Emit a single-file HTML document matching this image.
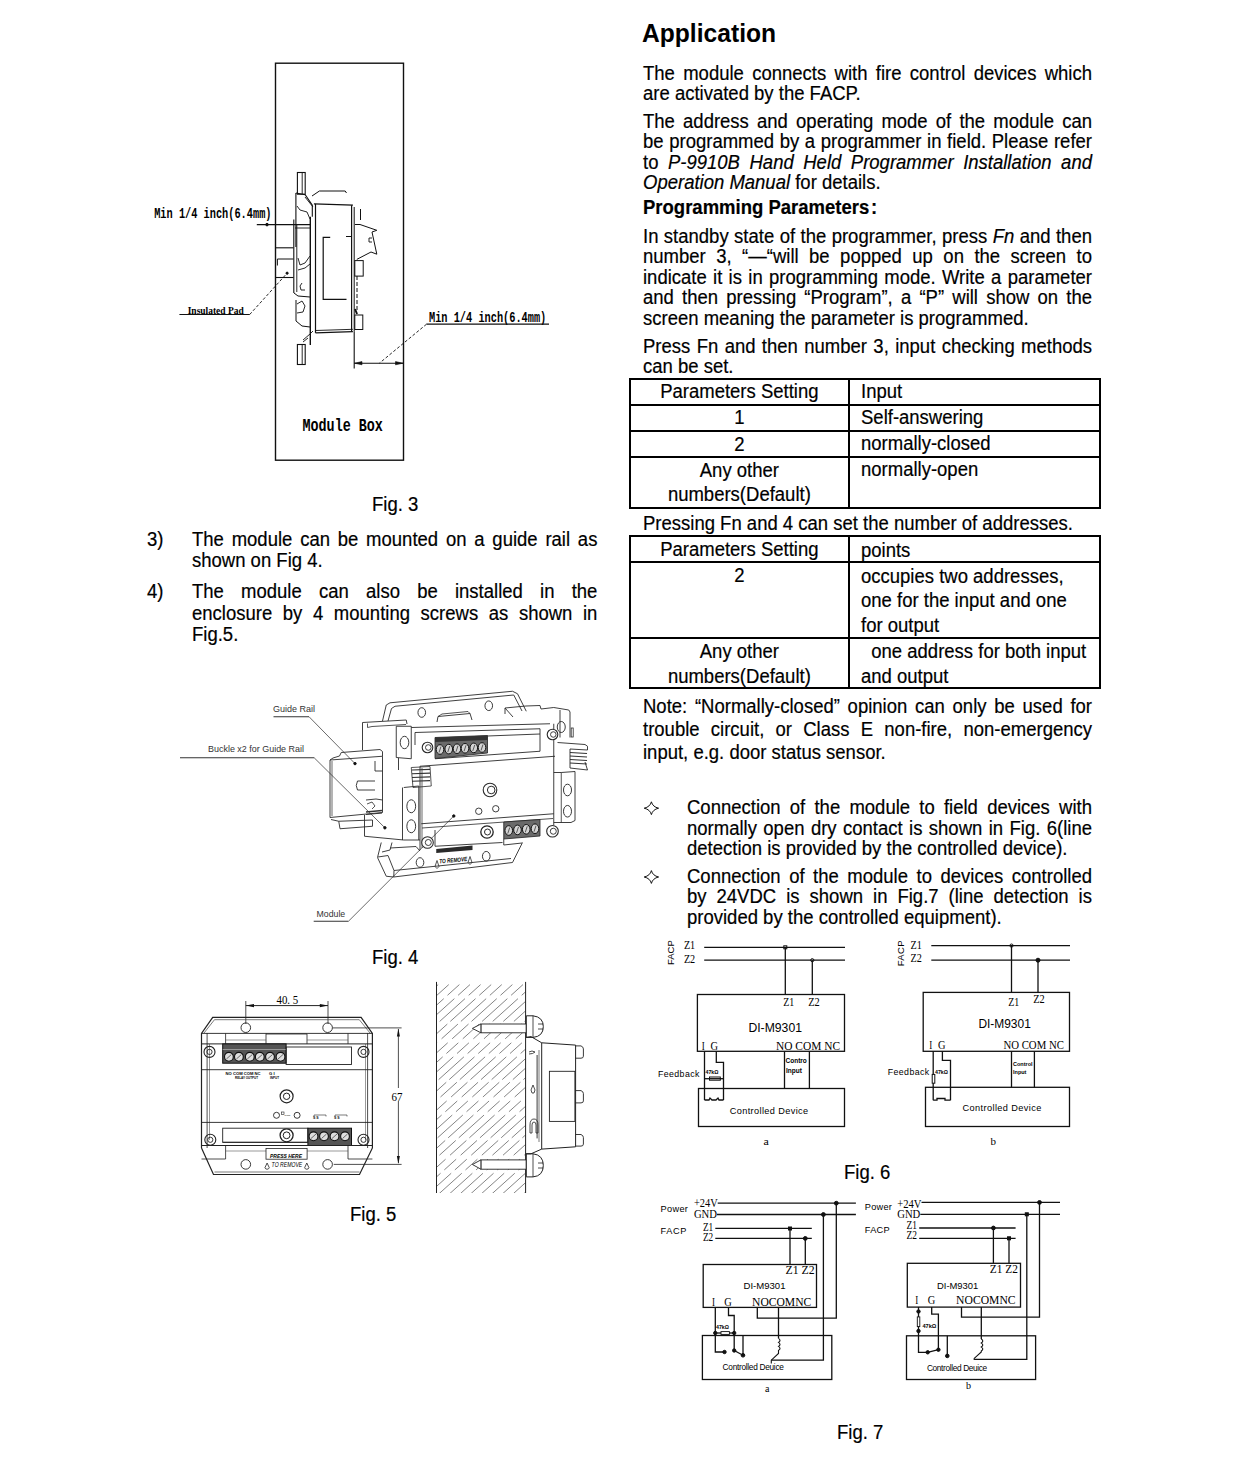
<!DOCTYPE html>
<html><head><meta charset="utf-8"><style>
html,body{margin:0;padding:0;background:#fff;}
body{width:1240px;height:1460px;position:relative;overflow:hidden;font-family:"Liberation Sans",sans-serif;color:#000;}
.l{position:absolute;white-space:nowrap;font-size:20px;line-height:20px;transform:scaleX(0.925);transform-origin:0 0;-webkit-text-stroke:0.2px #000;}
.j{text-align:justify;text-align-last:justify;white-space:normal;}
.r{position:absolute;background:#000;}
svg{position:absolute;left:0;top:0;overflow:visible;}
</style></head><body>
<div class="l" style="left:642px;top:23.1px;font-size:25.6px;font-weight:bold;transform:scaleX(0.962);-webkit-text-stroke:0;">Application</div>
<div class="l j" style="left:642.5px;top:62.7px;width:485.41px;">The module connects with fire control devices which</div>
<div class="l" style="left:642.5px;top:83.4px;">are activated by the FACP.</div>
<div class="l j" style="left:642.5px;top:110.6px;width:485.41px;">The address and operating mode of the module can</div>
<div class="l j" style="left:642.5px;top:131.1px;width:485.41px;">be programmed by a programmer in field. Please refer</div>
<div class="l j" style="left:642.5px;top:151.7px;width:485.41px;">to <i>P-9910B Hand Held Programmer Installation and</i></div>
<div class="l" style="left:642.5px;top:172.3px;"><i>Operation Manual</i> for details.</div>
<div class="l j" style="left:642.5px;top:225.7px;width:485.41px;">In standby state of the programmer, press <i>Fn</i> and then</div>
<div class="l j" style="left:642.5px;top:246.2px;width:485.41px;">number 3, “—“will be popped up on the screen to</div>
<div class="l j" style="left:642.5px;top:266.7px;width:485.41px;">indicate it is in programming mode. Write a parameter</div>
<div class="l j" style="left:642.5px;top:287.2px;width:485.41px;">and then pressing “Program”, a “P” will show on the</div>
<div class="l" style="left:642.5px;top:307.9px;">screen meaning the parameter is programmed.</div>
<div class="l j" style="left:642.5px;top:335.5px;width:485.41px;">Press Fn and then number 3, input checking methods</div>
<div class="l" style="left:642.5px;top:355.5px;">can be set.</div>
<div class="l" style="left:642.5px;top:513.2px;">Pressing Fn and 4 can set the number of addresses.</div>
<div class="l j" style="left:642.5px;top:696.1px;width:485.41px;">Note: “Normally-closed” opinion can only be used for</div>
<div class="l j" style="left:642.5px;top:719.2px;width:485.41px;">trouble circuit, or Class E non-fire, non-emergency</div>
<div class="l" style="left:642.5px;top:742.3px;">input, e.g. door status sensor.</div>
<div class="l" style="left:642.5px;top:196.7px;font-weight:bold;">Programming Parameters<span style="margin-left:2px">:</span></div>
<div class="l j" style="left:686.5px;top:797.1px;width:437.84px;">Connection of the module to field devices with</div>
<div class="l j" style="left:686.5px;top:817.7px;width:437.84px;">normally open dry contact is shown in Fig. 6(line</div>
<div class="l" style="left:686.5px;top:838.2px;">detection is provided by the controlled device).</div>
<div class="l j" style="left:686.5px;top:865.6px;width:437.84px;">Connection of the module to devices controlled</div>
<div class="l j" style="left:686.5px;top:886.2px;width:437.84px;">by 24VDC is shown in Fig.7 (line detection is</div>
<div class="l" style="left:686.5px;top:906.7px;">provided by the controlled equipment).</div>
<div class="r" style="left:629px;top:378.2px;width:471.70000000000005px;height:2px"></div>
<div class="r" style="left:629px;top:404.3px;width:471.70000000000005px;height:2px"></div>
<div class="r" style="left:629px;top:429.7px;width:471.70000000000005px;height:2px"></div>
<div class="r" style="left:629px;top:456.0px;width:471.70000000000005px;height:2px"></div>
<div class="r" style="left:629px;top:507.0px;width:471.70000000000005px;height:2px"></div>
<div class="r" style="left:629.0px;top:378.2px;width:2px;height:130.8px"></div>
<div class="r" style="left:847.7px;top:378.2px;width:2px;height:130.8px"></div>
<div class="r" style="left:1098.7px;top:378.2px;width:2px;height:130.8px"></div>
<div class="r" style="left:629px;top:535.3px;width:471.70000000000005px;height:2px"></div>
<div class="r" style="left:629px;top:561.0px;width:471.70000000000005px;height:2px"></div>
<div class="r" style="left:629px;top:636.6px;width:471.70000000000005px;height:2px"></div>
<div class="r" style="left:629px;top:687.4px;width:471.70000000000005px;height:2px"></div>
<div class="r" style="left:629.0px;top:535.3px;width:2px;height:154.10000000000002px"></div>
<div class="r" style="left:847.7px;top:535.3px;width:2px;height:154.10000000000002px"></div>
<div class="r" style="left:1098.7px;top:535.3px;width:2px;height:154.10000000000002px"></div>
<div class="l" style="left:630px;top:379.2px;width:236.43px;line-height:25px;text-align:center;">Parameters Setting</div>
<div class="l" style="left:630px;top:405.4px;width:236.43px;line-height:25px;text-align:center;">1</div>
<div class="l" style="left:630px;top:431.6px;width:236.43px;line-height:25px;text-align:center;">2</div>
<div class="l" style="left:630px;top:457.5px;width:236.43px;line-height:25px;text-align:center;">Any other</div>
<div class="l" style="left:630px;top:482.2px;width:236.43px;line-height:25px;text-align:center;">numbers(Default)</div>
<div class="l" style="left:630px;top:537.2px;width:236.43px;line-height:25px;text-align:center;">Parameters Setting</div>
<div class="l" style="left:630px;top:563.3px;width:236.43px;line-height:25px;text-align:center;">2</div>
<div class="l" style="left:630px;top:639.2px;width:236.43px;line-height:25px;text-align:center;">Any other</div>
<div class="l" style="left:630px;top:664.4px;width:236.43px;line-height:25px;text-align:center;">numbers(Default)</div>
<div class="l" style="left:860.5px;top:379.3px;line-height:25px;">Input</div>
<div class="l" style="left:860.5px;top:405.2px;line-height:25px;">Self-answering</div>
<div class="l" style="left:860.5px;top:431.2px;line-height:25px;">normally-closed</div>
<div class="l" style="left:860.5px;top:457.2px;line-height:25px;">normally-open</div>
<div class="l" style="left:860.5px;top:537.5px;line-height:25px;">points</div>
<div class="l" style="left:860.5px;top:563.5px;line-height:25px;">occupies two addresses,</div>
<div class="l" style="left:860.5px;top:588.3px;line-height:25px;">one for the input and one</div>
<div class="l" style="left:860.5px;top:613.2px;line-height:25px;">for output</div>
<div class="l" style="left:860.5px;top:639.2px;line-height:25px;">&nbsp; one address for both input</div>
<div class="l" style="left:860.5px;top:664.0px;line-height:25px;">and output</div>
<div class="l" style="left:147.3px;top:528.8px;">3)</div>
<div class="l j" style="left:192.3px;top:528.8px;width:438.27px;">The module can be mounted on a guide rail as</div>
<div class="l" style="left:192.3px;top:550.4px;">shown on Fig 4.</div>
<div class="l" style="left:147.3px;top:580.7px;">4)</div>
<div class="l j" style="left:192.3px;top:580.7px;width:438.27px;">The module can also be installed in the</div>
<div class="l j" style="left:192.3px;top:602.5px;width:438.27px;">enclosure by 4 mounting screws as shown in</div>
<div class="l" style="left:192.3px;top:624.3px;">Fig.5.</div>
<div class="l" style="left:371.8px;top:493.8px;">Fig. 3</div>
<div class="l" style="left:371.7px;top:946.8px;">Fig. 4</div>
<div class="l" style="left:349.8px;top:1204.0px;">Fig. 5</div>
<div class="l" style="left:844.0px;top:1161.8px;">Fig. 6</div>
<div class="l" style="left:836.8px;top:1421.8px;">Fig. 7</div>

<svg width="1240" height="1460" viewBox="0 0 1240 1460"><rect x="275.5" y="63.2" width="128" height="397" fill="none" stroke="#111" stroke-width="1.4"/><text x="154.2" y="217.7" font-family="Liberation Mono" font-size="10.3" font-weight="bold" transform="translate(154.2 217.7) scale(1 1.45) translate(-154.2 -217.7)">Min 1/4 inch(6.4mm)</text><line x1="256.8" y1="224.6" x2="311" y2="224.6" stroke="#111" stroke-width="1.1"/><circle cx="267" cy="224.6" r="1.3" fill="#111" stroke="#111" stroke-width="1.0"/><text x="429" y="321.6" font-family="Liberation Mono" font-size="10.3" font-weight="bold" transform="translate(429 321.6) scale(1 1.45) translate(-429 -321.6)">Min 1/4 inch(6.4mm)</text><line x1="426.5" y1="324.2" x2="549" y2="324.2" stroke="#111" stroke-width="1.2"/><line x1="426.5" y1="324.2" x2="379.4" y2="363.2" stroke="#111" stroke-width="0.9" stroke-dasharray="3,2"/><text x="187.7" y="314.5" font-family="Liberation Serif" font-size="8" font-weight="bold" textLength="56" lengthAdjust="spacingAndGlyphs" transform="translate(187.7 314.5) scale(1 1.2) translate(-187.7 -314.5)">Insulated Pad</text><line x1="179.4" y1="314.5" x2="249.7" y2="314.5" stroke="#111" stroke-width="1.1"/><line x1="249.7" y1="314.5" x2="287.1" y2="273.2" stroke="#111" stroke-width="0.9" stroke-dasharray="3,2"/><circle cx="287.1" cy="273.2" r="1.1" fill="#111" stroke="#111" stroke-width="1.0"/><text x="302.5" y="431" font-family="Liberation Mono" font-size="13.4" font-weight="bold" transform="translate(302.5 431) scale(1 1.35) translate(-302.5 -431)">Module Box</text><line x1="354.2" y1="331.6" x2="354.2" y2="368.4" stroke="#111" stroke-width="1.1"/><line x1="354.2" y1="363.2" x2="403.2" y2="363.2" stroke="#111" stroke-width="1.1"/><polygon points="354.5,363.2 362,361.6 362,364.8" fill="#111" stroke="#111" stroke-width="0.6"/><polygon points="403,363.2 395.5,361.6 395.5,364.8" fill="#111" stroke="#111" stroke-width="0.6"/><rect x="297.4" y="172.5" width="7.8" height="21.7" fill="none" stroke="#111" stroke-width="1.1"/><line x1="302.2" y1="173" x2="302.2" y2="194" stroke="#111" stroke-width="0.9"/><rect x="297.4" y="344.5" width="7.8" height="20" fill="none" stroke="#111" stroke-width="1.1"/><line x1="302.2" y1="345" x2="302.2" y2="364" stroke="#111" stroke-width="0.9"/><line x1="295.9" y1="193" x2="295.9" y2="247" stroke="#111" stroke-width="1.1"/><line x1="293.8" y1="219.4" x2="293.8" y2="293" stroke="#111" stroke-width="1.1"/><line x1="296.8" y1="225" x2="296.8" y2="292" stroke="#111" stroke-width="0.9"/><polyline points="295.9,193 305.2,194.8 312.3,205.2 312.3,216.8" fill="none" stroke="#111" stroke-width="1.1"/><polyline points="305,197 313,207" fill="none" stroke="#111" stroke-width="0.9"/><line x1="310.3" y1="216.8" x2="310.3" y2="345" stroke="#111" stroke-width="1.4"/><line x1="315.5" y1="203.9" x2="315.5" y2="332.9" stroke="#111" stroke-width="1.2"/><polyline points="313.9,203.9 352.9,205.2" fill="none" stroke="#111" stroke-width="1.2"/><polyline points="312,196 319.4,191 345.2,191 346.5,193" fill="none" stroke="#111" stroke-width="1.0"/><line x1="351.6" y1="205.2" x2="351.6" y2="331.6" stroke="#111" stroke-width="1.2"/><line x1="354.2" y1="207" x2="354.2" y2="331.6" stroke="#111" stroke-width="1.0"/><polyline points="330.2,237.4 323.2,237.4 323.2,299.4 346.5,299.4" fill="none" stroke="#111" stroke-width="1.2"/><polyline points="346,236.5 351.6,236.5" fill="none" stroke="#111" stroke-width="1.0"/><polyline points="315.5,332.9 352.9,331.6" fill="none" stroke="#111" stroke-width="1.2"/><polyline points="315.5,330.5 352.9,329.3" fill="none" stroke="#111" stroke-width="0.9"/><polyline points="355,224.5 360,224.5 376.8,230.3 372,232 376.8,254.2 371,252 356.8,259.4" fill="none" stroke="#111" stroke-width="1.0"/><line x1="369" y1="238" x2="369" y2="242" stroke="#111" stroke-width="0.9"/><line x1="369" y1="238" x2="372" y2="238" stroke="#111" stroke-width="0.9"/><line x1="369" y1="242" x2="372" y2="242" stroke="#111" stroke-width="0.9"/><rect x="354.8" y="260.6" width="8.4" height="15.5" fill="none" stroke="#111" stroke-width="1.0"/><line x1="357" y1="276" x2="357" y2="310" stroke="#111" stroke-width="1.0" stroke-dasharray="4,2"/><line x1="355" y1="309" x2="357" y2="314" stroke="#111" stroke-width="2"/><rect x="354.8" y="315" width="8" height="14.5" fill="none" stroke="#111" stroke-width="1.0"/><line x1="360.5" y1="209" x2="360.5" y2="220" stroke="#111" stroke-width="1.0"/><polyline points="275.5,247.8 293.5,247.8" fill="none" stroke="#111" stroke-width="1.1"/><polyline points="275.5,277.5 293.5,277.5" fill="none" stroke="#111" stroke-width="1.1"/><polyline points="277.4,265.5 277.4,259 293.5,259" fill="none" stroke="#111" stroke-width="1.0"/><polyline points="294,293 298,296 310,297" fill="none" stroke="#111" stroke-width="1.0"/><polyline points="296,300 296,321 302,326 310,327" fill="none" stroke="#111" stroke-width="1.0"/><polyline points="297,304 302,301 305,306 303,312 297,313" fill="none" stroke="#111" stroke-width="0.9"/><polyline points="297,206 300,210 307,212 310,219" fill="none" stroke="#111" stroke-width="0.9"/><polyline points="295,228 310,228" fill="none" stroke="#111" stroke-width="0.9"/><polyline points="298,258 300,265 305,263 310,256" fill="none" stroke="#111" stroke-width="0.9"/><polyline points="298,270 305,268 310,264" fill="none" stroke="#111" stroke-width="0.9"/><polyline points="302,283 300,286 301,290 305,290" fill="none" stroke="#111" stroke-width="0.9"/><polyline points="303,340 310,334 313,331" fill="none" stroke="#111" stroke-width="0.9"/><polyline points="303,342 308,338" fill="none" stroke="#111" stroke-width="0.9"/><text x="272.9" y="711.5" font-family="Liberation Sans" font-size="9.6" fill="#333" textLength="42" lengthAdjust="spacingAndGlyphs">Guide Rail</text><line x1="273.5" y1="716.7" x2="309" y2="716.7" stroke="#333" stroke-width="1.1"/><line x1="309" y1="716.7" x2="355" y2="763.6" stroke="#444" stroke-width="0.8"/><circle cx="355" cy="763.6" r="1.2" fill="#111" stroke="#111" stroke-width="1.0"/><text x="208" y="751.5" font-family="Liberation Sans" font-size="9.6" fill="#333" textLength="96" lengthAdjust="spacingAndGlyphs">Buckle x2 for Guide Rail</text><line x1="180" y1="757.8" x2="314.2" y2="757.8" stroke="#333" stroke-width="1.1"/><line x1="314.2" y1="757.8" x2="384.9" y2="827.8" stroke="#444" stroke-width="0.8"/><circle cx="384.9" cy="827.8" r="1.2" fill="#111" stroke="#111" stroke-width="1.0"/><text x="316.5" y="917.1" font-family="Liberation Sans" font-size="9.6" fill="#333" textLength="28.7" lengthAdjust="spacingAndGlyphs">Module</text><line x1="313.7" y1="921.3" x2="348.4" y2="921.3" stroke="#333" stroke-width="1.1"/><line x1="348.4" y1="921.3" x2="453.8" y2="816" stroke="#444" stroke-width="0.8"/><circle cx="453.8" cy="816" r="1.2" fill="#111" stroke="#111" stroke-width="1.0"/><polyline points="382.5,721 386.25,705 390,702.8 512.5,691.25 517.5,693.75 526.25,711.25" fill="none" stroke="#2a2a2a" stroke-width="0.9"/><polyline points="388,721 391.5,708.5 395,706.25 513.75,695 522,711" fill="none" stroke="#2a2a2a" stroke-width="0.9"/><ellipse cx="421.75" cy="712.5" rx="3.8" ry="4.8" fill="none" stroke="#222" stroke-width="0.9"/><ellipse cx="488.75" cy="705.75" rx="3.8" ry="4.8" fill="none" stroke="#222" stroke-width="0.9"/><polyline points="437,722 438,716.5 470,713.5 472,720" fill="none" stroke="#2a2a2a" stroke-width="0.9"/><polyline points="438,716.5 442,714 468,711.5 470,713.5" fill="none" stroke="#2a2a2a" stroke-width="0.8"/><polyline points="505,714 505,708 526,706 540,705.5 541,709" fill="none" stroke="#2a2a2a" stroke-width="0.9"/><polyline points="505,708 513,717" fill="none" stroke="#2a2a2a" stroke-width="0.9"/><polyline points="362.5,750 362.5,722.5 406.25,720 407,724" fill="none" stroke="#2a2a2a" stroke-width="0.9"/><polyline points="367.5,723.5 367.5,727.5 372,726.5 406,724.5" fill="none" stroke="#2a2a2a" stroke-width="0.8"/><polyline points="396.25,726.25 411.25,726.25 411.25,758.75 396.25,757.5 396.25,726.25" fill="none" stroke="#2a2a2a" stroke-width="0.9"/><ellipse cx="404.5" cy="742.5" rx="4.3" ry="6.2" fill="none" stroke="#222" stroke-width="0.9"/><line x1="398.5" y1="758" x2="398.5" y2="770" stroke="#2a2a2a" stroke-width="0.9"/><polyline points="402.5,787.5 402.5,840" fill="none" stroke="#2a2a2a" stroke-width="0.9"/><polyline points="403.75,787.5 418.75,786 418.75,840" fill="none" stroke="#2a2a2a" stroke-width="0.9"/><polyline points="364.5,815 364.5,836.25 403.75,840 420,840" fill="none" stroke="#2a2a2a" stroke-width="0.9"/><ellipse cx="411.25" cy="806.25" rx="4.4" ry="6.5" fill="none" stroke="#222" stroke-width="0.9"/><ellipse cx="411.25" cy="826.25" rx="4.4" ry="6.5" fill="none" stroke="#222" stroke-width="0.9"/><polyline points="341.25,752.5 380,749.5 382.5,751.5 382.5,756.25" fill="none" stroke="#2a2a2a" stroke-width="0.9"/><polyline points="341.25,752.5 339.5,756 333,758 330,760 330,817.5" fill="none" stroke="#2a2a2a" stroke-width="0.9"/><polyline points="330,760 382.5,756.25" fill="none" stroke="#2a2a2a" stroke-width="0.9"/><line x1="332" y1="761" x2="332" y2="816" stroke="#2a2a2a" stroke-width="0.7"/><polyline points="375,761 375,771 382.5,771" fill="none" stroke="#2a2a2a" stroke-width="0.9"/><polyline points="330,817.5 382.5,812.5" fill="none" stroke="#2a2a2a" stroke-width="0.9"/><polyline points="331,819.5 338.75,821.25 372.5,820 372.5,826.25 340,828.75 338.75,821.25" fill="none" stroke="#2a2a2a" stroke-width="0.9"/><polyline points="357.5,781 375,781" fill="none" stroke="#2a2a2a" stroke-width="0.9"/><polyline points="357.5,790 375,790" fill="none" stroke="#2a2a2a" stroke-width="0.9"/><path d="M357.5,781 q-2.5,4.5 0,9" fill="none" stroke="#2a2a2a" stroke-width="0.9" /><polyline points="382.5,756.25 382.5,800" fill="none" stroke="#2a2a2a" stroke-width="0.9"/><polyline points="366,800 376,799 382.5,800 382.5,812.5" fill="none" stroke="#2a2a2a" stroke-width="0.9"/><polyline points="367,804 372,802 375,806 372,809" fill="none" stroke="#2a2a2a" stroke-width="0.8"/><polyline points="366,812 382,810.5" fill="none" stroke="#333" stroke-width="1.6"/><polyline points="366,814.5 382,813" fill="none" stroke="#333" stroke-width="1.0"/><polyline points="411.25,727.5 550,723.75" fill="none" stroke="#2a2a2a" stroke-width="0.9"/><polyline points="415,732.5 540,728.75 540,751.25" fill="none" stroke="#2a2a2a" stroke-width="0.9"/><polyline points="415,732.5 415,745" fill="none" stroke="#2a2a2a" stroke-width="0.9"/><polyline points="435,758.75 540,751.25" fill="none" stroke="#2a2a2a" stroke-width="0.9"/><polyline points="420,766.25 555,756.25" fill="none" stroke="#2a2a2a" stroke-width="0.9"/><polyline points="420,766.25 420,850" fill="none" stroke="#2a2a2a" stroke-width="0.9"/><line x1="422" y1="768" x2="422" y2="848" stroke="#2a2a2a" stroke-width="0.7"/><line x1="553.75" y1="723.75" x2="553.75" y2="825" stroke="#2a2a2a" stroke-width="0.9"/><polyline points="421.25,823.75 553.75,813.75" fill="none" stroke="#2a2a2a" stroke-width="0.9"/><polyline points="422,828 553,818.5" fill="none" stroke="#2a2a2a" stroke-width="0.8"/><polyline points="435,830 435,846.25 502.5,842.5" fill="none" stroke="#2a2a2a" stroke-width="0.9"/><polygon points="435,737.5 487.5,735.5 487.5,753 435,758.5" fill="#6a6a6a" stroke="#222" stroke-width="0.8"/><polygon points="435,737.5 487.5,735.5 487.5,740 435,742" fill="#333"/><ellipse cx="440" cy="749.5" rx="3.8" ry="4.8" fill="#d4d4d4" stroke="#111" stroke-width="1.0"/><line x1="439" y1="752.5" x2="441" y2="746.5" stroke="#222" stroke-width="0.7"/><ellipse cx="448.75" cy="749.1" rx="3.8" ry="4.8" fill="#d4d4d4" stroke="#111" stroke-width="1.0"/><line x1="447.75" y1="752.1" x2="449.75" y2="746.1" stroke="#222" stroke-width="0.7"/><ellipse cx="457" cy="748.7" rx="3.8" ry="4.8" fill="#d4d4d4" stroke="#111" stroke-width="1.0"/><line x1="456" y1="751.7" x2="458" y2="745.7" stroke="#222" stroke-width="0.7"/><ellipse cx="465" cy="748.3" rx="3.8" ry="4.8" fill="#d4d4d4" stroke="#111" stroke-width="1.0"/><line x1="464" y1="751.3" x2="466" y2="745.3" stroke="#222" stroke-width="0.7"/><ellipse cx="473.75" cy="747.9" rx="3.8" ry="4.8" fill="#d4d4d4" stroke="#111" stroke-width="1.0"/><line x1="472.75" y1="750.9" x2="474.75" y2="744.9" stroke="#222" stroke-width="0.7"/><ellipse cx="482" cy="747.5" rx="3.8" ry="4.8" fill="#d4d4d4" stroke="#111" stroke-width="1.0"/><line x1="481" y1="750.5" x2="483" y2="744.5" stroke="#222" stroke-width="0.7"/><polyline points="487.5,736 540,734" fill="none" stroke="#2a2a2a" stroke-width="0.9"/><circle cx="427.5" cy="747.5" r="5.3" fill="#fff" stroke="#2a2a2a" stroke-width="1.1"/><circle cx="428.3" cy="747.5" r="2.8" fill="none" stroke="#2a2a2a" stroke-width="0.9"/><line x1="412" y1="770" x2="430" y2="769.4" stroke="#333" stroke-width="1.2"/><line x1="412" y1="773.75" x2="430" y2="773.15" stroke="#333" stroke-width="1.2"/><line x1="412" y1="777.5" x2="430" y2="776.9" stroke="#333" stroke-width="1.2"/><line x1="412" y1="781.25" x2="430" y2="780.65" stroke="#333" stroke-width="1.2"/><polyline points="411.25,767.5 430,766.5 431.25,786 413,787.5 411.25,767.5" fill="none" stroke="#2a2a2a" stroke-width="0.8"/><circle cx="490" cy="790" r="6.8" fill="#fff" stroke="#2a2a2a" stroke-width="1.1"/><circle cx="491.2" cy="790" r="3.8" fill="none" stroke="#2a2a2a" stroke-width="1"/><circle cx="478.75" cy="811.25" r="3.2" fill="none" stroke="#2a2a2a" stroke-width="0.9"/><circle cx="495.75" cy="808.75" r="3.2" fill="none" stroke="#2a2a2a" stroke-width="0.9"/><circle cx="487" cy="832" r="6.2" fill="#fff" stroke="#222" stroke-width="1.3"/><circle cx="487.5" cy="832" r="3" fill="none" stroke="#2a2a2a" stroke-width="1"/><polygon points="503.75,822 540,819.5 540,836 503.75,839" fill="#6a6a6a" stroke="#222" stroke-width="0.8"/><ellipse cx="508.75" cy="830.5" rx="3.8" ry="4.8" fill="#d4d4d4" stroke="#111" stroke-width="1.0"/><line x1="507.75" y1="833.5" x2="509.75" y2="827.5" stroke="#222" stroke-width="0.7"/><ellipse cx="517.5" cy="829.9" rx="3.8" ry="4.8" fill="#d4d4d4" stroke="#111" stroke-width="1.0"/><line x1="516.5" y1="832.9" x2="518.5" y2="826.9" stroke="#222" stroke-width="0.7"/><ellipse cx="526.25" cy="829.3" rx="3.8" ry="4.8" fill="#d4d4d4" stroke="#111" stroke-width="1.0"/><line x1="525.25" y1="832.3" x2="527.25" y2="826.3" stroke="#222" stroke-width="0.7"/><ellipse cx="535" cy="828.7" rx="3.8" ry="4.8" fill="#d4d4d4" stroke="#111" stroke-width="1.0"/><line x1="534" y1="831.7" x2="536" y2="825.7" stroke="#222" stroke-width="0.7"/><circle cx="427.5" cy="842.5" r="5.8" fill="#fff" stroke="#2a2a2a" stroke-width="1.1"/><circle cx="428.3" cy="842.5" r="3.016" fill="none" stroke="#2a2a2a" stroke-width="0.9"/><circle cx="552.5" cy="831.25" r="5.8" fill="#fff" stroke="#2a2a2a" stroke-width="1.1"/><circle cx="553.3" cy="831.25" r="3.016" fill="none" stroke="#2a2a2a" stroke-width="0.9"/><circle cx="552.5" cy="734.5" r="5.3" fill="#fff" stroke="#2a2a2a" stroke-width="1.1"/><circle cx="553.3" cy="734.5" r="2.756" fill="none" stroke="#2a2a2a" stroke-width="0.9"/><polyline points="541,709 553.75,707.5 568.75,710 570,712 570,737.5" fill="none" stroke="#2a2a2a" stroke-width="0.9"/><polyline points="560,710 560,737.5" fill="none" stroke="#2a2a2a" stroke-width="0.9"/><ellipse cx="561.25" cy="727" rx="4" ry="5.5" fill="none" stroke="#222" stroke-width="0.9"/><rect x="571.2" y="728" width="2" height="9" fill="none" stroke="#2a2a2a" stroke-width="0.8"/><polyline points="557.5,742.5 585,744.5 587.5,746.25 587.5,750 570,749" fill="none" stroke="#2a2a2a" stroke-width="0.9"/><line x1="570" y1="752.5" x2="587" y2="753.5" stroke="#333" stroke-width="1.2"/><line x1="570" y1="756" x2="587" y2="757" stroke="#333" stroke-width="1.2"/><line x1="570" y1="759.5" x2="587" y2="760.5" stroke="#333" stroke-width="1.2"/><line x1="570" y1="763" x2="587" y2="764" stroke="#333" stroke-width="1.2"/><polyline points="570,749 570,768 587.5,770 585,762" fill="none" stroke="#2a2a2a" stroke-width="0.9"/><polyline points="553.75,772.5 561.25,772.5 575,771.5 575,820.5 571,822.5 553.75,822.5" fill="none" stroke="#2a2a2a" stroke-width="0.9"/><line x1="561.25" y1="772.5" x2="561.25" y2="822.5" stroke="#2a2a2a" stroke-width="0.8"/><ellipse cx="567.5" cy="790" rx="4" ry="5.8" fill="none" stroke="#222" stroke-width="0.9"/><ellipse cx="567.5" cy="811.25" rx="4" ry="5.8" fill="none" stroke="#222" stroke-width="0.9"/><polyline points="381.25,842.5 377.5,857.5 386.25,876.25 393.75,877 512.5,862.5 522.5,842.5" fill="none" stroke="#2a2a2a" stroke-width="0.9"/><polyline points="392,842.5 390,850 382,852" fill="none" stroke="#2a2a2a" stroke-width="0.9"/><polyline points="378,857 388,855.5 394,870.5 393.75,877" fill="none" stroke="#2a2a2a" stroke-width="0.9"/><polyline points="394,870.5 511,858.5" fill="none" stroke="#2a2a2a" stroke-width="0.9"/><polyline points="390,848 416,846.5 420,851" fill="none" stroke="#2a2a2a" stroke-width="0.9"/><ellipse cx="420" cy="862.5" rx="3.8" ry="4.8" fill="none" stroke="#222" stroke-width="0.9"/><ellipse cx="486.25" cy="856.25" rx="3.8" ry="4.8" fill="none" stroke="#222" stroke-width="0.9"/><polygon points="436.25,849 472.5,845.5 472.5,850 436.25,853" fill="#2a2a2a"/><text x="439.5" y="863.5" font-family="Liberation Sans" font-size="6.2" font-weight="bold" font-style="italic" textLength="28" lengthAdjust="spacingAndGlyphs" transform="rotate(-5 439.5 863.5)">TO REMOVE</text><polyline points="435,866.5 437,860.5 439,866.5 437,868.5 435,866.5" fill="none" stroke="#2a2a2a" stroke-width="0.8"/><polyline points="468,862.5 470,856.5 472,862.5 470,864.5 468,862.5" fill="none" stroke="#2a2a2a" stroke-width="0.8"/><polyline points="503.75,839 503.75,845 522,843" fill="none" stroke="#2a2a2a" stroke-width="0.9"/><text x="276.5" y="1004.4" font-family="Liberation Serif" font-size="12" textLength="21.7" lengthAdjust="spacingAndGlyphs">40. 5</text><line x1="245.8" y1="1005.6" x2="328" y2="1005.6" stroke="#222" stroke-width="1.0"/><polygon points="245.8,1005.6 254,1004 254,1007.2" fill="#111"/><polygon points="328,1005.6 319.8,1004 319.8,1007.2" fill="#111"/><line x1="245.8" y1="1001" x2="245.8" y2="1024" stroke="#222" stroke-width="0.8"/><line x1="328" y1="1001" x2="328" y2="1024" stroke="#222" stroke-width="0.8"/><polyline points="201.5,1147.9 201.5,1033.4 212.7,1017.3 361.1,1017.3 372.4,1033.4 372.4,1147.9 359.5,1174.5 213.5,1174.5 201.5,1147.9" fill="none" stroke="#222" stroke-width="1.2"/><polyline points="204,1033 214.5,1019.7 359.3,1019.7 370,1033" fill="none" stroke="#444" stroke-width="0.7"/><line x1="207.1" y1="1033" x2="207.1" y2="1148" stroke="#222" stroke-width="0.8"/><line x1="367.6" y1="1033" x2="367.6" y2="1148" stroke="#222" stroke-width="0.8"/><line x1="209.5" y1="1044" x2="209.5" y2="1140" stroke="#555" stroke-width="0.6"/><line x1="365.5" y1="1044" x2="365.5" y2="1140" stroke="#555" stroke-width="0.6"/><circle cx="245.8" cy="1027.7" r="4.8" fill="none" stroke="#222" stroke-width="0.9"/><circle cx="327.6" cy="1027.7" r="4.8" fill="none" stroke="#222" stroke-width="0.9"/><circle cx="245.8" cy="1164.4" r="4.8" fill="none" stroke="#222" stroke-width="0.9"/><circle cx="327.6" cy="1164.4" r="4.8" fill="none" stroke="#222" stroke-width="0.9"/><line x1="201.5" y1="1033.4" x2="372.4" y2="1033.4" stroke="#222" stroke-width="0.9"/><polyline points="225.6,1033.4 225.6,1043.9" fill="none" stroke="#222" stroke-width="0.8"/><polyline points="266,1033.4 266,1043.9" fill="none" stroke="#222" stroke-width="0.8"/><polyline points="266,1034 307,1034 307,1043.9" fill="none" stroke="#222" stroke-width="0.8"/><polyline points="348,1033.4 348,1043.9" fill="none" stroke="#222" stroke-width="0.8"/><line x1="225.6" y1="1040" x2="266" y2="1040" stroke="#555" stroke-width="0.6"/><line x1="307" y1="1040" x2="348" y2="1040" stroke="#555" stroke-width="0.6"/><line x1="201.5" y1="1043.9" x2="372.4" y2="1043.9" stroke="#222" stroke-width="1.0"/><circle cx="209.5" cy="1051.9" r="5.5" fill="none" stroke="#222" stroke-width="1.1"/><circle cx="209.5" cy="1051.9" r="2.6" fill="none" stroke="#222" stroke-width="0.9"/><circle cx="363.5" cy="1051.9" r="5.5" fill="none" stroke="#222" stroke-width="1.1"/><circle cx="363.5" cy="1051.9" r="2.6" fill="none" stroke="#222" stroke-width="0.9"/><circle cx="210.3" cy="1139.8" r="5.5" fill="none" stroke="#222" stroke-width="1.1"/><circle cx="210.3" cy="1139.8" r="2.6" fill="none" stroke="#222" stroke-width="0.9"/><circle cx="363.5" cy="1139.8" r="5.5" fill="none" stroke="#222" stroke-width="1.1"/><circle cx="363.5" cy="1139.8" r="2.6" fill="none" stroke="#222" stroke-width="0.9"/><rect x="222.7" y="1043.9" width="63.4" height="19.3" fill="#555" stroke="#111" stroke-width="1"/><line x1="222.7" y1="1049.5" x2="286.1" y2="1049.5" stroke="#aaa" stroke-width="0.8"/><circle cx="228.9" cy="1056.8" r="4.4" fill="#dedede" stroke="#111" stroke-width="1.1"/><line x1="226.4" y1="1059" x2="231.4" y2="1054.5" stroke="#333" stroke-width="0.7"/><circle cx="238.9" cy="1056.8" r="4.4" fill="#dedede" stroke="#111" stroke-width="1.1"/><line x1="236.4" y1="1059" x2="241.4" y2="1054.5" stroke="#333" stroke-width="0.7"/><circle cx="249.8" cy="1056.8" r="4.4" fill="#dedede" stroke="#111" stroke-width="1.1"/><line x1="247.3" y1="1059" x2="252.3" y2="1054.5" stroke="#333" stroke-width="0.7"/><circle cx="259.8" cy="1056.8" r="4.4" fill="#dedede" stroke="#111" stroke-width="1.1"/><line x1="257.3" y1="1059" x2="262.3" y2="1054.5" stroke="#333" stroke-width="0.7"/><circle cx="270" cy="1056.8" r="4.4" fill="#dedede" stroke="#111" stroke-width="1.1"/><line x1="267.5" y1="1059" x2="272.5" y2="1054.5" stroke="#333" stroke-width="0.7"/><circle cx="280.5" cy="1056.8" r="4.4" fill="#dedede" stroke="#111" stroke-width="1.1"/><line x1="278.0" y1="1059" x2="283.0" y2="1054.5" stroke="#333" stroke-width="0.7"/><rect x="286.1" y="1047" width="65.4" height="17.5" fill="none" stroke="#222" stroke-width="0.9"/><line x1="201.5" y1="1069.7" x2="372.4" y2="1069.7" stroke="#222" stroke-width="0.9"/><text x="225.6" y="1075" font-family="Liberation Sans" font-size="4.2" font-weight="bold" textLength="35" lengthAdjust="spacingAndGlyphs">NO COM COM NC</text><text x="235" y="1079" font-family="Liberation Sans" font-size="3" font-weight="bold">RELAY OUTPUT</text><text x="269" y="1075" font-family="Liberation Sans" font-size="4.2" font-weight="bold">G  I</text><text x="270" y="1079" font-family="Liberation Sans" font-size="3" font-weight="bold">INPUT</text><circle cx="286.6" cy="1096.3" r="6.5" fill="none" stroke="#222" stroke-width="1.2"/><circle cx="286.6" cy="1096.3" r="3.2" fill="none" stroke="#222" stroke-width="1"/><circle cx="276.5" cy="1115.3" r="3" fill="none" stroke="#222" stroke-width="0.9"/><circle cx="297.1" cy="1115.3" r="3" fill="none" stroke="#222" stroke-width="0.9"/><rect x="281.5" y="1112" width="2.5" height="2.5" fill="none" stroke="#222" stroke-width="0.6"/><text x="284.5" y="1116" font-family="Liberation Sans" font-size="2.5" >PWR</text><text x="313" y="1119" font-family="Liberation Sans" font-size="3.5" font-weight="bold">S  S</text><text x="334" y="1119" font-family="Liberation Sans" font-size="3.5" font-weight="bold">S  S</text><polyline points="314,1116.5 314,1115 326,1115 326,1116.5" fill="none" stroke="#222" stroke-width="0.6"/><polyline points="335,1116.5 335,1115 347,1115 347,1116.5" fill="none" stroke="#222" stroke-width="0.6"/><line x1="201.5" y1="1122.4" x2="372.4" y2="1122.4" stroke="#222" stroke-width="0.9"/><rect x="222.7" y="1128.2" width="85.2" height="14.1" fill="none" stroke="#222" stroke-width="0.9"/><circle cx="286.6" cy="1135.3" r="6.5" fill="#fff" stroke="#222" stroke-width="1.3"/><circle cx="286.6" cy="1135.3" r="3.4" fill="none" stroke="#222" stroke-width="1"/><rect x="307.9" y="1128.2" width="43.6" height="17.3" fill="#555" stroke="#111" stroke-width="1"/><circle cx="313.5" cy="1136.3" r="4.4" fill="#dedede" stroke="#111" stroke-width="1.1"/><line x1="311.0" y1="1138.5" x2="316.0" y2="1134" stroke="#333" stroke-width="0.7"/><circle cx="324" cy="1136.3" r="4.4" fill="#dedede" stroke="#111" stroke-width="1.1"/><line x1="321.5" y1="1138.5" x2="326.5" y2="1134" stroke="#333" stroke-width="0.7"/><circle cx="334.5" cy="1136.3" r="4.4" fill="#dedede" stroke="#111" stroke-width="1.1"/><line x1="332.0" y1="1138.5" x2="337.0" y2="1134" stroke="#333" stroke-width="0.7"/><circle cx="345" cy="1136.3" r="4.4" fill="#dedede" stroke="#111" stroke-width="1.1"/><line x1="342.5" y1="1138.5" x2="347.5" y2="1134" stroke="#333" stroke-width="0.7"/><line x1="201.5" y1="1145.5" x2="372.4" y2="1145.5" stroke="#222" stroke-width="1.0"/><line x1="222.7" y1="1142.3" x2="307.9" y2="1142.3" stroke="#222" stroke-width="0.9"/><polyline points="225.6,1145.5 225.6,1159 201.5,1159" fill="none" stroke="#222" stroke-width="0.8"/><polyline points="348,1145.5 348,1159 372.4,1159" fill="none" stroke="#222" stroke-width="0.8"/><line x1="225.6" y1="1151" x2="266" y2="1151" stroke="#555" stroke-width="0.6"/><line x1="307" y1="1151" x2="348" y2="1151" stroke="#555" stroke-width="0.6"/><rect x="266" y="1148.5" width="41.1" height="10.7" fill="#fff" stroke="#222" stroke-width="0.8"/><text x="270" y="1157.5" font-family="Liberation Sans" font-size="5.5" font-weight="bold" font-style="italic" textLength="32" lengthAdjust="spacingAndGlyphs">PRESS HERE</text><text x="271.6" y="1166.5" font-family="Liberation Sans" font-size="6.5" font-style="italic" textLength="30.7" lengthAdjust="spacingAndGlyphs">TO REMOVE</text><path d="M267.1,1163 l-2.2,4.8 a2.4,2.4 0 0 0 4.4,0 z" fill="none" stroke="#222" stroke-width="0.8" /><path d="M306.8,1163 l-2.2,4.8 a2.4,2.4 0 0 0 4.4,0 z" fill="none" stroke="#222" stroke-width="0.8" /><line x1="214.5" y1="1172" x2="359.5" y2="1172" stroke="#444" stroke-width="0.7"/><line x1="332.5" y1="1027.9" x2="401.6" y2="1027.9" stroke="#222" stroke-width="0.8"/><line x1="333.7" y1="1164.4" x2="401.6" y2="1164.4" stroke="#222" stroke-width="0.8"/><line x1="398.4" y1="1029" x2="398.4" y2="1163" stroke="#222" stroke-width="0.8"/><polygon points="398.4,1028.5 396.9,1036.5 399.9,1036.5" fill="#111"/><polygon points="398.4,1164 396.9,1156 399.9,1156" fill="#111"/><rect x="391" y="1088" width="12" height="13" fill="#fff"/><text x="391.5" y="1100.5" font-family="Liberation Serif" font-size="11.5" textLength="11" lengthAdjust="spacingAndGlyphs">67</text><clipPath id="wc"><rect x="436.5" y="981.9" width="89.1" height="211.1"/></clipPath><path d="M160.9,1196 l240,-216 M171.5,1196 l240,-216 M182.1,1196 l240,-216 M192.7,1196 l240,-216 M203.3,1196 l240,-216 M213.9,1196 l240,-216 M224.5,1196 l240,-216 M235.1,1196 l240,-216 M245.7,1196 l240,-216 M256.3,1196 l240,-216 M266.9,1196 l240,-216 M277.5,1196 l240,-216 M288.1,1196 l240,-216 M298.7,1196 l240,-216 M309.3,1196 l240,-216 M319.9,1196 l240,-216 M330.5,1196 l240,-216 M341.1,1196 l240,-216 M351.7,1196 l240,-216 M362.3,1196 l240,-216 M372.9,1196 l240,-216 M383.5,1196 l240,-216 M394.1,1196 l240,-216 M404.7,1196 l240,-216 M415.3,1196 l240,-216 M425.9,1196 l240,-216 M436.5,1196 l240,-216 M447.1,1196 l240,-216 M457.7,1196 l240,-216 M468.3,1196 l240,-216 M478.9,1196 l240,-216 M489.5,1196 l240,-216 M500.1,1196 l240,-216 M510.7,1196 l240,-216 M521.3,1196 l240,-216 M531.9,1196 l240,-216 M542.5,1196 l240,-216 M553.1,1196 l240,-216" stroke="#666" stroke-width="0.8" fill="none" stroke-dasharray="34,5,16,6,22,4" clip-path="url(#wc)"/><line x1="436.5" y1="981.9" x2="436.5" y2="1193" stroke="#222" stroke-width="1.0"/><line x1="525.6" y1="981.9" x2="525.6" y2="1193" stroke="#222" stroke-width="1.0"/><rect x="480.9" y="1024" width="45.4" height="8.799999999999955" fill="#fff" stroke="#222" stroke-width="0.9"/><polygon points="472.4,1028.4 480.9,1024 480.9,1032.8" fill="#fff" stroke="#222" stroke-width="0.9"/><rect x="480.9" y="1159.9" width="45.4" height="9.299999999999955" fill="#fff" stroke="#222" stroke-width="0.9"/><polygon points="472.4,1164.5 480.9,1159.9 480.9,1169.2" fill="#fff" stroke="#222" stroke-width="0.9"/><path d="M526.3,1015.8 L533,1015.8 Q543.3,1017 543.3,1026.6 Q543.3,1036.5 533,1037.4 L526.3,1037.4 Z" fill="#fff" stroke="#222" stroke-width="1" /><line x1="533" y1="1015.8" x2="533" y2="1037.4" stroke="#222" stroke-width="0.8"/><line x1="538" y1="1024" x2="543.3" y2="1024" stroke="#222" stroke-width="0.8"/><line x1="538" y1="1029" x2="543.3" y2="1029" stroke="#222" stroke-width="0.8"/><path d="M526.3,1153.8 L533,1153.8 Q543.3,1155 543.3,1165.4 Q543.3,1176 533,1176.9 L526.3,1176.9 Z" fill="#fff" stroke="#222" stroke-width="1" /><line x1="533" y1="1153.8" x2="533" y2="1176.9" stroke="#222" stroke-width="0.8"/><line x1="538" y1="1163" x2="543.3" y2="1163" stroke="#222" stroke-width="0.8"/><line x1="538" y1="1168" x2="543.3" y2="1168" stroke="#222" stroke-width="0.8"/><polyline points="526,1037.4 531,1036.6 541.7,1042.8 541.7,1149.1 531,1153.8 526,1153.8" fill="none" stroke="#222" stroke-width="1"/><polyline points="541.7,1042.8 575.6,1045.1 575.6,1146.8 541.7,1149.1" fill="none" stroke="#222" stroke-width="1"/><line x1="537.1" y1="1055" x2="537.1" y2="1138.4" stroke="#222" stroke-width="0.9"/><line x1="539" y1="1050" x2="539" y2="1142" stroke="#444" stroke-width="0.7"/><rect x="549.4" y="1071.3" width="25.5" height="50.1" fill="none" stroke="#222" stroke-width="0.9"/><path d="M575.6,1045.9 L581,1045.9 Q583.4,1046.9 583.4,1048.9 L583.4,1056.2 Q583.4,1058.2 581,1058.2 L575.6,1058.2" fill="none" stroke="#222" stroke-width="0.9" /><path d="M575.6,1090.6 L581,1090.6 Q583.4,1091.6 583.4,1093.6 L583.4,1100.9 Q583.4,1102.9 581,1102.9 L575.6,1102.9" fill="none" stroke="#222" stroke-width="0.9" /><path d="M575.6,1134.5 L581,1134.5 Q583.4,1135.5 583.4,1137.5 L583.4,1144.1 Q583.4,1146.1 581,1146.1 L575.6,1146.1" fill="none" stroke="#222" stroke-width="0.9" /><path d="M529,1052 q3,-2 6,0 q-2,2 -6,2" fill="none" stroke="#222" stroke-width="0.8" /><path d="M531,1090 l2,-5 l2,5 l-1,3 l-2,0 z" fill="none" stroke="#222" stroke-width="0.8" /><path d="M530,1125 q0,-6 4,-6 q4,0 4,6 l0,8 l-2,0 l0,-8 q0,-3 -2,-3 q-2,0 -2,3 l0,8 l-2,0 z" fill="none" stroke="#222" stroke-width="0.8" /><text x="670.5" y="952.6" font-family="Liberation Sans" font-size="9.5" text-anchor="middle" textLength="24.799999999999955" lengthAdjust="spacing" transform="rotate(-90 670.5 952.6) translate(0 3.2)">FACP</text><text x="683.9" y="948.9" font-family="Liberation Serif" font-size="12.5" textLength="11.3" lengthAdjust="spacingAndGlyphs">Z1</text><text x="683.9" y="963" font-family="Liberation Serif" font-size="12.5" textLength="11.3" lengthAdjust="spacingAndGlyphs">Z2</text><line x1="704.2" y1="947.3" x2="845" y2="947.3" stroke="#111" stroke-width="1.3"/><line x1="704.2" y1="960.2" x2="845" y2="960.2" stroke="#111" stroke-width="1.3"/><line x1="785.3" y1="947.3" x2="785.3" y2="994.5" stroke="#111" stroke-width="1.3"/><line x1="812.3" y1="960.2" x2="812.3" y2="994.5" stroke="#111" stroke-width="1.3"/><rect x="783.8" y="945.8" width="3" height="3" fill="none" stroke="#111" stroke-width="1"/><circle cx="812.3" cy="960.2" r="1.6" fill="none" stroke="#111" stroke-width="1"/><rect x="697.4" y="994.5" width="147.1" height="56.8" fill="none" stroke="#111" stroke-width="1.3"/><text x="783.2" y="1005.5" font-family="Liberation Serif" font-size="12.5" textLength="11" lengthAdjust="spacingAndGlyphs">Z1</text><text x="808.2" y="1005.5" font-family="Liberation Serif" font-size="12.5" textLength="11.5" lengthAdjust="spacingAndGlyphs">Z2</text><text x="775.2" y="1031.6" font-family="Liberation Sans" font-size="12.5" text-anchor="middle" textLength="53.5" lengthAdjust="spacingAndGlyphs">DI-M9301</text><text x="701.8" y="1049.7" font-family="Liberation Serif" font-size="12.5" textLength="3" lengthAdjust="spacingAndGlyphs">I</text><text x="710.5" y="1049.7" font-family="Liberation Serif" font-size="12.5" textLength="7.5" lengthAdjust="spacingAndGlyphs">G</text><text x="776" y="1049.7" font-family="Liberation Serif" font-size="12.5" textLength="64" lengthAdjust="spacingAndGlyphs">NO COM NC</text><polyline points="704.5,1051.3 704.5,1100" fill="none" stroke="#111" stroke-width="1.3"/><polyline points="716.3,1051.3 716.3,1062.3 723.5,1062.3 723.5,1100" fill="none" stroke="#111" stroke-width="1.3"/><line x1="704.5" y1="1078.7" x2="723.5" y2="1078.7" stroke="#111" stroke-width="1.3"/><rect x="709.5" y="1077" width="10.8" height="3.2" fill="none" stroke="#111" stroke-width="1"/><text x="705.5" y="1074" font-family="Liberation Sans" font-size="5.5" font-weight="bold" textLength="13" lengthAdjust="spacingAndGlyphs">47kΩ</text><text x="657.9" y="1076.8" font-family="Liberation Sans" font-size="8.8" textLength="41.5" lengthAdjust="spacing">Feedback</text><line x1="784.5" y1="1051.3" x2="784.5" y2="1088.5" stroke="#111" stroke-width="1.3"/><line x1="809.4" y1="1051.3" x2="809.4" y2="1088.5" stroke="#111" stroke-width="1.3"/><text x="785.5" y="1063" font-family="Liberation Sans" font-size="6.5" font-weight="bold">Contro</text><text x="786" y="1072.7" font-family="Liberation Sans" font-size="6.5" font-weight="bold">Input</text><rect x="698.5" y="1088.5" width="146" height="38" fill="none" stroke="#111" stroke-width="1.3"/><text x="729.7" y="1113.9" font-family="Liberation Sans" font-size="9.2" textLength="78.5" lengthAdjust="spacing">Controlled Device</text><polyline points="704.5,1100 709,1100 710,1098 712,1100 716,1100 718,1098 719,1100 723.5,1100" fill="none" stroke="#111" stroke-width="1.3"/><text x="763.4" y="1144.5" font-family="Liberation Serif" font-size="11" textLength="5.3" lengthAdjust="spacingAndGlyphs">a</text><text x="900.8" y="953.4" font-family="Liberation Sans" font-size="9.5" text-anchor="middle" textLength="25.799999999999955" lengthAdjust="spacing" transform="rotate(-90 900.8 953.4) translate(0 3.2)">FACP</text><text x="910.6" y="948.5" font-family="Liberation Serif" font-size="12.5" textLength="11.3" lengthAdjust="spacingAndGlyphs">Z1</text><text x="910.6" y="961.8" font-family="Liberation Serif" font-size="12.5" textLength="11.3" lengthAdjust="spacingAndGlyphs">Z2</text><line x1="931.3" y1="945.6" x2="1070" y2="945.6" stroke="#111" stroke-width="1.3"/><line x1="931.3" y1="960.2" x2="1070" y2="960.2" stroke="#111" stroke-width="1.3"/><line x1="1011.5" y1="945.6" x2="1011.5" y2="992.4" stroke="#111" stroke-width="1.3"/><line x1="1038" y1="960.2" x2="1038" y2="992.4" stroke="#111" stroke-width="1.3"/><circle cx="1011.5" cy="945.6" r="1.6" fill="none" stroke="#111" stroke-width="1"/><circle cx="1038" cy="960.2" r="2" fill="#111" stroke="#111" stroke-width="1"/><rect x="923.2" y="992.4" width="146.3" height="58.9" fill="none" stroke="#111" stroke-width="1.3"/><text x="1008.2" y="1005.5" font-family="Liberation Serif" font-size="12.5" textLength="11" lengthAdjust="spacingAndGlyphs">Z1</text><text x="1033.2" y="1003.4" font-family="Liberation Serif" font-size="12.5" textLength="11.5" lengthAdjust="spacingAndGlyphs">Z2</text><text x="1004.6" y="1028.4" font-family="Liberation Sans" font-size="12.5" text-anchor="middle" textLength="52.4" lengthAdjust="spacingAndGlyphs">DI-M9301</text><text x="929.2" y="1049.4" font-family="Liberation Serif" font-size="12.5" textLength="3" lengthAdjust="spacingAndGlyphs">I</text><text x="938" y="1049.4" font-family="Liberation Serif" font-size="12.5" textLength="7.5" lengthAdjust="spacingAndGlyphs">G</text><text x="1003.4" y="1048.5" font-family="Liberation Serif" font-size="12.5" textLength="60.5" lengthAdjust="spacingAndGlyphs">NO COM NC</text><polyline points="933.2,1051.3 933.2,1100.2" fill="none" stroke="#111" stroke-width="1.3"/><rect x="932.2" y="1074.4" width="2.6" height="8.8" fill="#fff" stroke="#111" stroke-width="1"/><polyline points="942.4,1051.3 942.4,1060.3 950.5,1060.3 950.5,1100.2" fill="none" stroke="#111" stroke-width="1.3"/><text x="935" y="1073.5" font-family="Liberation Sans" font-size="5.5" font-weight="bold" textLength="13" lengthAdjust="spacingAndGlyphs">47kΩ</text><text x="887.7" y="1074.7" font-family="Liberation Sans" font-size="8.8" textLength="41.5" lengthAdjust="spacing">Feedback</text><line x1="1011.5" y1="1051.3" x2="1011.5" y2="1087.3" stroke="#111" stroke-width="1.3"/><line x1="1034.4" y1="1051.3" x2="1034.4" y2="1087.3" stroke="#111" stroke-width="1.3"/><text x="1013" y="1065.5" font-family="Liberation Sans" font-size="5.5" font-weight="bold">Control</text><text x="1013" y="1073.5" font-family="Liberation Sans" font-size="5.5" font-weight="bold">Input</text><rect x="925.5" y="1087.3" width="144" height="39.2" fill="none" stroke="#111" stroke-width="1.3"/><text x="962.6" y="1110.6" font-family="Liberation Sans" font-size="9.2" textLength="78.7" lengthAdjust="spacing">Controlled Device</text><polyline points="933.2,1100.2 937,1100.2 937,1098.5 945,1098.5 945,1100.2 950.5,1100.2" fill="none" stroke="#111" stroke-width="1.3"/><text x="990.5" y="1144.5" font-family="Liberation Serif" font-size="11" textLength="5.5" lengthAdjust="spacingAndGlyphs">b</text><text x="660.5" y="1211.8" font-family="Liberation Sans" font-size="9.2" textLength="27.4" lengthAdjust="spacing">Power</text><text x="693.9" y="1206.9" font-family="Liberation Serif" font-size="12.5" textLength="23.8" lengthAdjust="spacingAndGlyphs">+24V</text><text x="693.9" y="1217.7" font-family="Liberation Serif" font-size="12.5" textLength="23.1" lengthAdjust="spacingAndGlyphs">GND</text><line x1="717.7" y1="1203.2" x2="855.9" y2="1203.2" stroke="#111" stroke-width="1.3"/><line x1="717" y1="1214.5" x2="855.9" y2="1214.5" stroke="#111" stroke-width="1.3"/><circle cx="836.3" cy="1203.2" r="1.9" fill="#111" stroke="#111" stroke-width="1.0"/><circle cx="823.4" cy="1214.5" r="1.9" fill="#111" stroke="#111" stroke-width="1.0"/><polyline points="836.3,1203.2 836.3,1318.2 757.3,1318.2 757.3,1307.4" fill="none" stroke="#111" stroke-width="1.3"/><polyline points="823.4,1214.5 823.4,1360.2 771.3,1360.2" fill="none" stroke="#111" stroke-width="1.3"/><text x="660.5" y="1234.4" font-family="Liberation Sans" font-size="9.2" textLength="25.8" lengthAdjust="spacing">FACP</text><text x="702.9" y="1230.6" font-family="Liberation Serif" font-size="12.5" textLength="10.3" lengthAdjust="spacingAndGlyphs">Z1</text><text x="702.9" y="1240.8" font-family="Liberation Serif" font-size="12.5" textLength="10.3" lengthAdjust="spacingAndGlyphs">Z2</text><line x1="715.3" y1="1228.4" x2="811.8" y2="1228.4" stroke="#111" stroke-width="1.3"/><line x1="715.3" y1="1238.4" x2="811.8" y2="1238.4" stroke="#111" stroke-width="1.3"/><line x1="790" y1="1228.4" x2="790" y2="1264.5" stroke="#111" stroke-width="1.3"/><line x1="805.3" y1="1238.4" x2="805.3" y2="1264.5" stroke="#111" stroke-width="1.3"/><rect x="788.5" y="1227" width="3" height="3" fill="#111" stroke="#111" stroke-width="1"/><circle cx="805.3" cy="1238.4" r="1.9" fill="#111" stroke="#111" stroke-width="1.0"/><rect x="703.2" y="1264.5" width="113.3" height="42.9" fill="none" stroke="#111" stroke-width="1.3"/><text x="785.5" y="1273.5" font-family="Liberation Serif" font-size="12.5" textLength="29" lengthAdjust="spacingAndGlyphs">Z1 Z2</text><text x="743.5" y="1288.7" font-family="Liberation Sans" font-size="9.5" textLength="42" lengthAdjust="spacingAndGlyphs">DI-M9301</text><text x="712" y="1305.8" font-family="Liberation Serif" font-size="12.5" textLength="3" lengthAdjust="spacingAndGlyphs">I</text><text x="724.2" y="1305.8" font-family="Liberation Serif" font-size="12.5" textLength="7.5" lengthAdjust="spacingAndGlyphs">G</text><text x="752" y="1305.8" font-family="Liberation Serif" font-size="12.5" textLength="59.3" lengthAdjust="spacingAndGlyphs">NOCOMNC</text><polyline points="715.3,1307.4 715.3,1352 724.5,1352" fill="none" stroke="#111" stroke-width="1.3"/><circle cx="724.5" cy="1352" r="1.7" fill="#111" stroke="#111" stroke-width="1.0"/><polyline points="728.5,1307.4 728.5,1315.5 734.2,1315.5 734.2,1350.5" fill="none" stroke="#111" stroke-width="1.3"/><circle cx="734.2" cy="1350.5" r="1.7" fill="#111" stroke="#111" stroke-width="1.0"/><line x1="715.3" y1="1333" x2="734.2" y2="1333" stroke="#111" stroke-width="1.3"/><rect x="721" y="1331.6" width="8.4" height="2.8" fill="#fff" stroke="#111" stroke-width="0.9"/><circle cx="715.3" cy="1333" r="1.7" fill="#111" stroke="#111" stroke-width="1.0"/><circle cx="734.2" cy="1333" r="1.7" fill="#111" stroke="#111" stroke-width="1.0"/><text x="716" y="1328.5" font-family="Liberation Sans" font-size="5.5" font-weight="bold" textLength="13" lengthAdjust="spacingAndGlyphs">47kΩ</text><line x1="743" y1="1335.5" x2="743" y2="1355.3" stroke="#111" stroke-width="1.3"/><circle cx="743" cy="1355.3" r="1.8" fill="#111" stroke="#111" stroke-width="1.0"/><line x1="734.2" y1="1350.5" x2="743" y2="1355.3" stroke="#111" stroke-width="1.3"/><rect x="702.4" y="1335.5" width="129.4" height="44" fill="none" stroke="#111" stroke-width="1.3"/><polyline points="778.5,1307.4 778.5,1338.4" fill="none" stroke="#111" stroke-width="1.3"/><path d="M778.5,1338.4 q3,2 0,4 q3,2 0,4 q3,2 0,4 l0,3 l-7.2,6.8 l0,3.2" fill="none" stroke="#111" stroke-width="1.1" /><text x="722.6" y="1369.8" font-family="Liberation Sans" font-size="8.3" textLength="61.3" lengthAdjust="spacing">Controlled Deuice</text><text x="765" y="1391.6" font-family="Liberation Serif" font-size="10" >a</text><text x="864.8" y="1209.5" font-family="Liberation Sans" font-size="9.2" textLength="27.1" lengthAdjust="spacing">Power</text><text x="897.2" y="1207.7" font-family="Liberation Serif" font-size="12.5" textLength="24.3" lengthAdjust="spacingAndGlyphs">+24V</text><text x="897.2" y="1217.9" font-family="Liberation Serif" font-size="12.5" textLength="23.1" lengthAdjust="spacingAndGlyphs">GND</text><line x1="921.5" y1="1202.4" x2="1060" y2="1202.4" stroke="#111" stroke-width="1.3"/><line x1="920.3" y1="1214.3" x2="1060" y2="1214.3" stroke="#111" stroke-width="1.3"/><circle cx="1039.5" cy="1202.4" r="1.9" fill="#111" stroke="#111" stroke-width="1.0"/><rect x="1025.3" y="1212.8" width="3" height="3" fill="#111" stroke="#111" stroke-width="1"/><polyline points="1039.5,1202.4 1039.5,1317.2 961.5,1317.2 961.5,1307.1" fill="none" stroke="#111" stroke-width="1.3"/><polyline points="1026.8,1214.3 1026.8,1359.4 974.2,1359.4" fill="none" stroke="#111" stroke-width="1.3"/><text x="864.8" y="1232.6" font-family="Liberation Sans" font-size="9.2" textLength="24.8" lengthAdjust="spacing">FACP</text><text x="906.5" y="1229.4" font-family="Liberation Serif" font-size="12.5" textLength="10.5" lengthAdjust="spacingAndGlyphs">Z1</text><text x="906.5" y="1239.3" font-family="Liberation Serif" font-size="12.5" textLength="10.5" lengthAdjust="spacingAndGlyphs">Z2</text><line x1="919.2" y1="1228" x2="1015.6" y2="1228" stroke="#111" stroke-width="1.3"/><line x1="919.2" y1="1238.3" x2="1015.6" y2="1238.3" stroke="#111" stroke-width="1.3"/><line x1="993.4" y1="1228" x2="993.4" y2="1263.3" stroke="#111" stroke-width="1.3"/><line x1="1009" y1="1238.3" x2="1009" y2="1263.3" stroke="#111" stroke-width="1.3"/><circle cx="993.4" cy="1228" r="1.9" fill="#111" stroke="#111" stroke-width="1.0"/><rect x="1007.5" y="1236.8" width="3" height="3" fill="#111" stroke="#111" stroke-width="1"/><rect x="907.3" y="1263.3" width="113.2" height="43.8" fill="none" stroke="#111" stroke-width="1.3"/><text x="989.8" y="1272.5" font-family="Liberation Serif" font-size="12.5" textLength="28" lengthAdjust="spacingAndGlyphs">Z1 Z2</text><text x="937" y="1288.5" font-family="Liberation Sans" font-size="9.5" textLength="41.3" lengthAdjust="spacingAndGlyphs">DI-M9301</text><text x="915.3" y="1304.4" font-family="Liberation Serif" font-size="12.5" textLength="3" lengthAdjust="spacingAndGlyphs">I</text><text x="927.7" y="1304.4" font-family="Liberation Serif" font-size="12.5" textLength="7.5" lengthAdjust="spacingAndGlyphs">G</text><text x="956.1" y="1304.4" font-family="Liberation Serif" font-size="12.5" textLength="59.5" lengthAdjust="spacingAndGlyphs">NOCOMNC</text><polyline points="918.5,1307.1 918.5,1352.3 927.7,1352.3" fill="none" stroke="#111" stroke-width="1.3"/><circle cx="927.7" cy="1352.3" r="1.7" fill="#111" stroke="#111" stroke-width="1.0"/><line x1="927.7" y1="1352.3" x2="938.4" y2="1349.7" stroke="#111" stroke-width="1.3"/><circle cx="938.4" cy="1349.7" r="1.7" fill="#111" stroke="#111" stroke-width="1.0"/><circle cx="918.5" cy="1311.5" r="1.7" fill="#111" stroke="#111" stroke-width="1.0"/><circle cx="918.5" cy="1331" r="1.7" fill="#111" stroke="#111" stroke-width="1.0"/><rect x="917.3" y="1316.9" width="2.5" height="9.7" fill="#fff" stroke="#111" stroke-width="0.9"/><text x="922.4" y="1328.4" font-family="Liberation Sans" font-size="5.5" font-weight="bold" textLength="14" lengthAdjust="spacingAndGlyphs">47kΩ</text><polyline points="931.7,1307.1 931.7,1314.2 938.4,1314.2 938.4,1349.7" fill="none" stroke="#111" stroke-width="1.3"/><line x1="947.3" y1="1335.8" x2="947.3" y2="1355.9" stroke="#111" stroke-width="1.3"/><circle cx="947.3" cy="1355.9" r="1.8" fill="#111" stroke="#111" stroke-width="1.0"/><rect x="906.5" y="1335.8" width="129.1" height="43.7" fill="none" stroke="#111" stroke-width="1.3"/><polyline points="981.3,1307.1 981.3,1339" fill="none" stroke="#111" stroke-width="1.3"/><path d="M981.3,1339 q3,2 0,4 q3,2 0,4 q3,2 0,4 l0,1 l-7.1,6.4 l0,1.6" fill="none" stroke="#111" stroke-width="1.1" /><text x="926.9" y="1370.6" font-family="Liberation Sans" font-size="8.3" textLength="60.3" lengthAdjust="spacing">Controlled Deuice</text><text x="965.9" y="1388.7" font-family="Liberation Serif" font-size="10" >b</text><path d="M651.4,801.8000000000001 Q652.6999999999999,806.9000000000001 658.6,808.2 Q652.6999999999999,809.5 651.4,814.6 Q650.1,809.5 644.1999999999999,808.2 Q650.1,806.9000000000001 651.4,801.8000000000001 Z" fill="none" stroke="#111" stroke-width="1.0" /><path d="M651.4,870.6 Q652.6999999999999,875.7 658.6,877 Q652.6999999999999,878.3 651.4,883.4 Q650.1,878.3 644.1999999999999,877 Q650.1,875.7 651.4,870.6 Z" fill="none" stroke="#111" stroke-width="1.0" /></svg>
</body></html>
